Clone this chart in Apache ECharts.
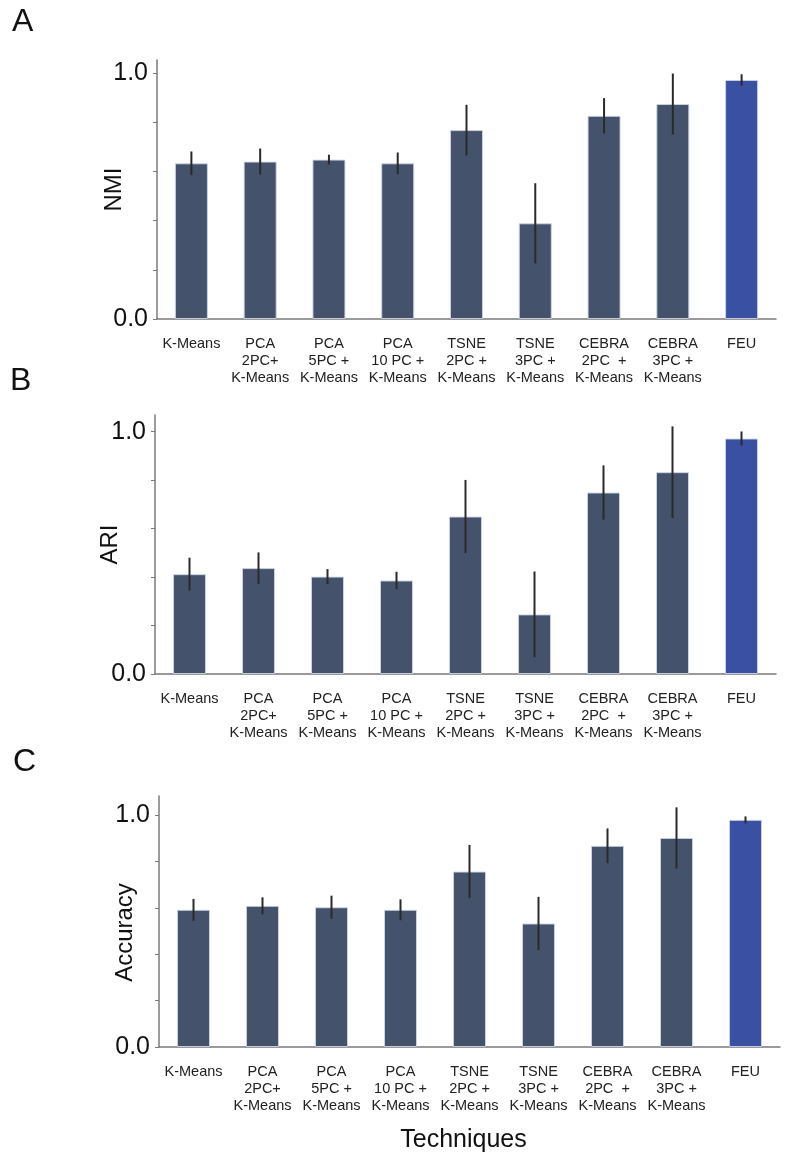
<!DOCTYPE html>
<html>
<head>
<meta charset="utf-8">
<script src="https://cdn.jsdelivr.net/npm/echarts@6/dist/echarts.min.js"></script>
<style>
html,body{margin:0;padding:0;background:#fff;}
#chart{width:788px;height:1159px;}
</style>
</head>
<body>
<div id="chart"></div>
<script>
const categories = ["K-Means", "PCA\n2PC+\nK-Means", "PCA\n5PC +\nK-Means", "PCA\n10 PC +\nK-Means",
  "TSNE\n2PC +\nK-Means", "TSNE\n3PC +\nK-Means", "CEBRA\n2PC  +\nK-Means", "CEBRA\n3PC +\nK-Means", "FEU"];
const nmiMean = [0.633, 0.640, 0.648, 0.633, 0.768, 0.389, 0.826, 0.874, 0.972];
const nmiErr  = [0.048, 0.053, 0.020, 0.044, 0.103, 0.163, 0.072, 0.124, 0.023];
const ariMean = [0.412, 0.437, 0.402, 0.386, 0.650, 0.246, 0.749, 0.833, 0.972];
const ariErr  = [0.068, 0.065, 0.031, 0.036, 0.151, 0.177, 0.112, 0.189, 0.029];
const accMean = [0.592, 0.609, 0.603, 0.592, 0.757, 0.533, 0.868, 0.902, 0.980];
const accErr  = [0.047, 0.037, 0.050, 0.045, 0.115, 0.115, 0.075, 0.132, 0.015];
const yTickValues = [0, 0.2, 0.4, 0.6, 0.8, 1.0];
const yLabelValues = [0, 1.0];
const panelLetters = ["A", "B", "C"];
const yNames = ["NMI", "ARI", "Accuracy"];
const xName = "Techniques";

const FONT = "'Liberation Sans', Arial, Helvetica, sans-serif";
const BAR = '#44536b';
const HIGHLIGHT = '#3a51a3';
const AXIS = '#7a7a7a';

const panels = [
  {mean: nmiMean, err: nmiErr, grid: {left: 157, right: 12, top: 60, height: 259}, max: 1.053, nameGap: 31, namePad: [0,0,0,0]},
  {mean: ariMean, err: ariErr, grid: {left: 155, right: 12, top: 415, height: 259}, max: 1.069, nameGap: 33, namePad: [0,0,0,0]},
  {mean: accMean, err: accErr, grid: {left: 159, right: 8, top: 796, height: 251}, max: 1.083, nameGap: 22, namePad: [0,22,0,0]}
];

const option = {
  animation: false,
  backgroundColor: '#fff',
  textStyle: {fontFamily: FONT},
  title: panelLetters.map((t, i) => ({
    text: t, left: [12, 10, 13][i], top: [6, 365, 746][i], padding: 0,
    textStyle: {fontFamily: FONT, fontSize: 32, fontWeight: 'normal', color: '#111'}
  })),
  grid: panels.map(p => p.grid),
  xAxis: panels.map((p, i) => ({
    type: 'category', gridIndex: i, data: categories,
    boundaryGap: true,
    axisLine: {lineStyle: {color: AXIS, width: 1.5}},
    axisTick: {alignWithLabel: true, length: 4, lineStyle: {color: AXIS}},
    axisLabel: {interval: 0, margin: 16, fontSize: 14.5, lineHeight: 17, color: '#222', align: 'center', fontFamily: FONT},
    name: i === 2 ? xName : '',
    nameLocation: 'middle', nameGap: 81, nameMoveOverlap: false,
    nameTextStyle: {fontSize: 25, color: '#111', fontFamily: FONT, padding: [0, 12, 0, 0]}
  })),
  yAxis: panels.map((p, i) => ({
    type: 'value', gridIndex: i, min: 0, max: p.max,
    splitLine: {show: false},
    axisLine: {show: true, lineStyle: {color: AXIS, width: 1.5}},
    axisTick: {show: true, length: 4, lineStyle: {color: AXIS}, customValues: yTickValues},
    axisLabel: {fontSize: 25, color: '#111', margin: 9, customValues: yLabelValues,
      formatter: v => v.toFixed(1), fontFamily: FONT},
    name: yNames[i], nameLocation: 'middle', nameGap: p.nameGap, nameRotate: 90, nameMoveOverlap: false,
    nameTextStyle: {fontSize: 24, color: '#111', fontFamily: FONT, padding: p.namePad}
  })),
  series: []
};

panels.forEach((p, i) => {
  option.series.push({
    type: 'bar', xAxisIndex: i, yAxisIndex: i, barWidth: 33,
    data: p.mean.map((v, k) => ({
      value: v,
      itemStyle: {color: categories[k] === 'FEU' ? HIGHLIGHT : BAR}
    })),
    itemStyle: {borderColor: 'rgba(205,214,228,0.9)', borderWidth: 1},
    z: 2
  });
  option.series.push({
    type: 'custom', xAxisIndex: i, yAxisIndex: i,
    data: p.mean.map((v, k) => [k, v - p.err[k], v + p.err[k]]),
    renderItem: function (params, api) {
      const a = api.coord([api.value(0), api.value(1)]);
      const b = api.coord([api.value(0), api.value(2)]);
      return {type: 'line', shape: {x1: a[0], y1: a[1], x2: b[0], y2: b[1]},
        style: {stroke: '#2a2a2a', lineWidth: 2}};
    },
    z: 5
  });
});

const chart = echarts.init(document.getElementById('chart'), null, {renderer: 'canvas'});
chart.setOption(option);
</script>
</body>
</html>
